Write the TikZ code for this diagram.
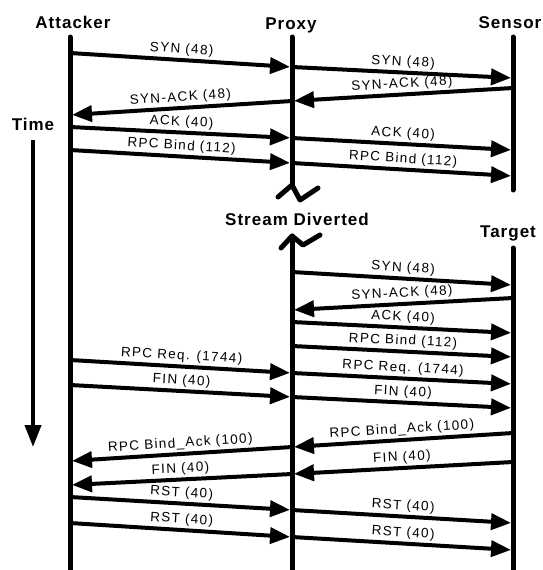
\documentclass[tikz,border=0pt]{standalone}
\usepackage{fontspec}
\setmainfont{Liberation Sans}
\newfontfamily\hdrfont[LetterSpace=6]{Liberation Sans}
\newfontfamily\msgfont[LetterSpace=10]{Liberation Sans}
\usetikzlibrary{arrows.meta}

\begin{document}
\begin{tikzpicture}[x=1pt,y=-1pt,
  hdr/.style={font=\hdrfont\bfseries\fontsize{17}{20}\selectfont, anchor=base, inner sep=0pt},
  lifeline/.style={line width=5pt, line cap=round},
  breakmark/.style={line width=5pt, line join=round, line cap=round},
  msg/.style={line width=4pt, -{Triangle[length=20pt,width=16pt]}, shorten >=2pt},
  lbl/.style={font=\msgfont\fontsize{13.5}{15}\selectfont, midway, sloped, above, inner sep=2pt},
  timearrow/.style={line width=4pt, -{Triangle[length=22pt,width=16pt]}}]

\useasboundingbox (0,0) rectangle (543,570);

% column headings
\node[hdr] (attacker) at (73,28)  {Attacker};
\node[hdr] (proxy)    at (291,29) {Proxy};
\node[hdr] (sensor)   at (510,28) {Sensor};
\node[hdr] (time)     at (33,130) {Time};
\node[hdr] (diverted) at (297,225) {Stream Diverted};
\node[hdr] (target)   at (508,237) {Target};

% lifelines
\coordinate (Atop) at (70,37);   \coordinate (Abot) at (70,575);
\coordinate (Ptop) at (292,37);  \coordinate (Pcut) at (292,185);
\coordinate (Pres) at (292,236); \coordinate (Pbot) at (292,575);
\coordinate (Stop) at (513,37);  \coordinate (Send) at (513,190);
\coordinate (Ttop) at (513,248); \coordinate (Tbot) at (513,575);

\draw[lifeline] (Atop) -- (Abot);
\draw[lifeline] (Ptop) -- (Pcut);
\draw[lifeline] (Pres) -- (Pbot);
\draw[lifeline] (Stop) -- (Send);
\draw[lifeline] (Ttop) -- (Tbot);

% break marks around the diverted stream
\draw[breakmark] (278,197) -- (Pcut) -- (300,200) -- (318,188);
\draw[breakmark] (281,248) -- (Pres) -- (303,245) -- (320,235);

% time axis
\coordinate (t0) at (33,140);
\coordinate (t1) at (33,447);
\draw[timearrow] (t0) -- (t1);

% packets
\foreach \n/\xs/\ys/\xe/\ye/\t in {
  1/70/53/292/67/{SYN (48)},
  2/292/67/513/78/{SYN (48)},
  3/513/88/292/101/{SYN-ACK (48)},
  4/292/101/70/115/{SYN-ACK (48)},
  5/70/127/292/138/{ACK (40)},
  6/292/138/513/150/{ACK (40)},
  7/70/150/292/163/{RPC Bind (112)},
  8/292/163/513/176/{RPC Bind (112)},
  9/292/272/513/285/{SYN (48)},
  10/513/298/292/310/{SYN-ACK (48)},
  11/292/322/513/333/{ACK (40)},
  12/292/346/513/357/{RPC Bind (112)},
  13/70/360/292/373/{RPC Req. (1744)},
  14/292/373/513/384/{RPC Req. (1744)},
  15/70/385/292/397/{FIN (40)},
  16/292/397/513/408/{FIN (40)},
  17/513/433/292/447/{RPC Bind\_Ack (100)},
  18/292/447/70/461/{RPC Bind\_Ack (100)},
  19/513/462/292/474/{FIN (40)},
  20/292/474/70/485/{FIN (40)},
  21/70/497/292/510/{RST (40)},
  22/292/510/513/523/{RST (40)},
  23/70/523/292/537/{RST (40)},
  24/292/537/513/550/{RST (40)}}
{
  \coordinate (s\n) at (\xs,\ys);
  \coordinate (e\n) at (\xe,\ye);
  \draw[msg] (s\n) -- (e\n) node[lbl] {\t};
}

\end{tikzpicture}
\end{document}
